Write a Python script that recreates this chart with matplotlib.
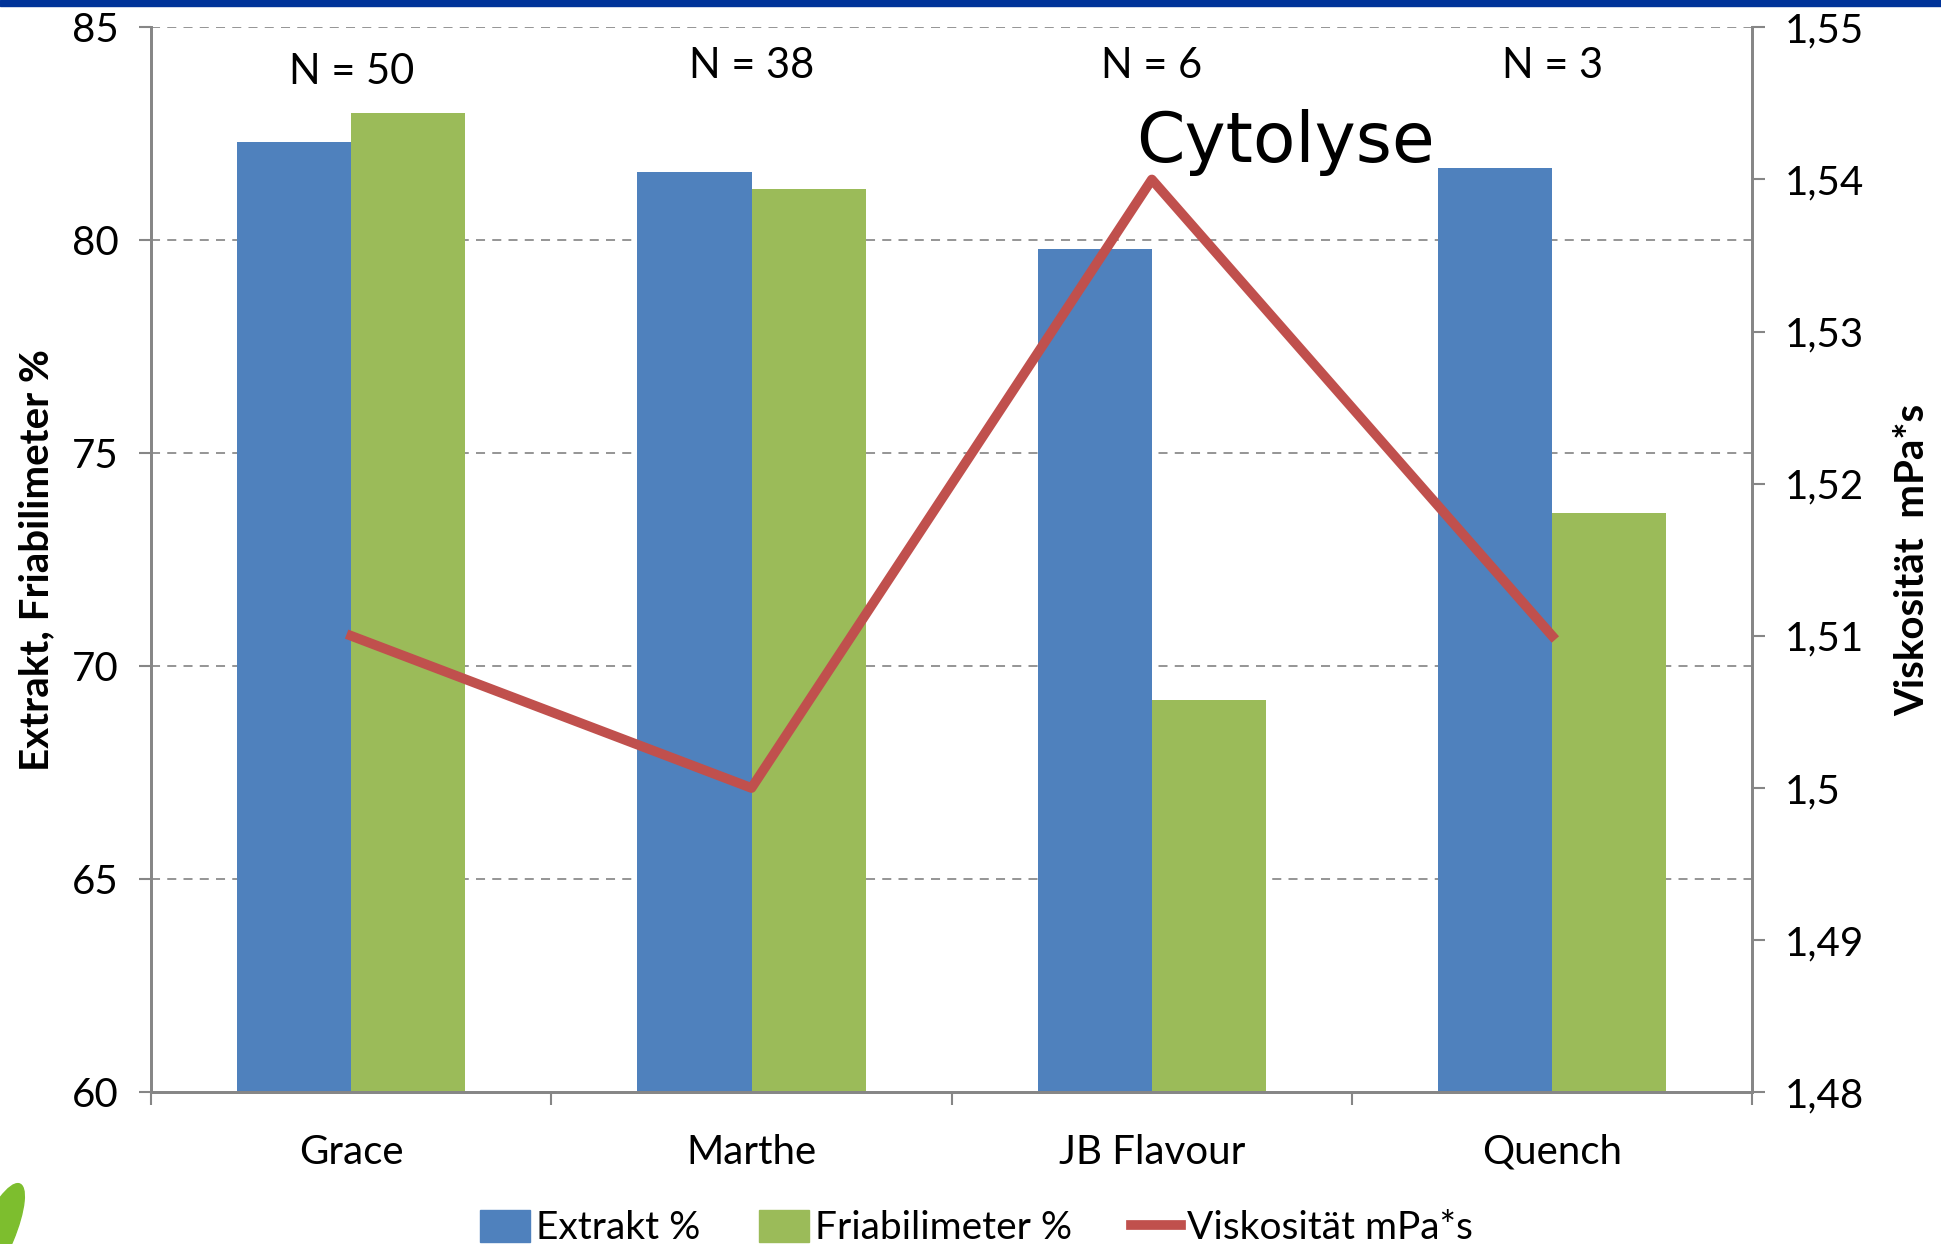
import numpy as np
import matplotlib.pyplot as plt
from matplotlib.patches import Rectangle, Patch, Ellipse
from matplotlib.lines import Line2D
from matplotlib.ticker import FuncFormatter

plt.rcParams['font.family'] = ['Lato', 'DejaVu Sans']

# data
sorten = ['Grace', 'Marthe', 'JB Flavour', 'Quench']
n_proben = ['N = 50', 'N = 38', 'N = 6', 'N = 3']
extrakt = [82.3, 81.6, 79.8, 81.7]
friabilimeter = [83.0, 81.2, 69.2, 73.6]
viskositaet = [1.51, 1.50, 1.54, 1.51]

blau = '#4F81BD'
gruen = '#9BBB59'
rot = '#C0504D'
grau = '#868686'

fig = plt.figure(figsize=(19.41, 12.44), dpi=100)
ax = fig.add_axes([0.0778, 0.122, 0.825, 0.856])
ax2 = ax.twinx()

x = np.arange(len(sorten))
w = 0.285
ax.bar(x - w/2, extrakt, w, color=blau, zorder=2)
ax.bar(x + w/2, friabilimeter, w, color=gruen, zorder=2)
ax2.plot(x, viskositaet, color=rot, lw=7, zorder=3)

ax.set_xlim(-0.5, 3.5)
ax.set_ylim(60, 85)
ax.set_yticks(np.arange(60, 86, 5))
ax2.set_ylim(1.48, 1.55)
ax2.set_yticks(np.arange(1.48, 1.551, 0.01))
ax2.yaxis.set_major_formatter(FuncFormatter(lambda v, p: ('%.2f' % v).rstrip('0').rstrip('.').replace('.', ',')))

# grid
for v in [65, 70, 75, 80, 85]:
    ax.axhline(v, color='#8c8c8c', lw=1.3, ls=(0, (5, 4)), zorder=1)

# x ticks between categories, labels in centre
ax.set_xticks(np.arange(-0.5, 3.6, 1))
ax.set_xticklabels([])
ax.set_xticks(x, minor=True)
ax.set_xticklabels(sorten, minor=True)
ax.tick_params(axis='x', which='minor', length=0, pad=30, labelsize=29)
ax.tick_params(axis='x', which='major', length=9, width=1.5, color=grau)
ax.tick_params(axis='y', length=9, width=1.5, color=grau, labelsize=29, pad=14)
ax2.tick_params(axis='y', length=9, width=1.5, color=grau, labelsize=29, pad=14)

for a in (ax, ax2):
    a.spines['top'].set_visible(False)
    for s in ['left', 'right', 'bottom']:
        a.spines[s].set_color(grau)
        a.spines[s].set_linewidth(2)

ax.set_ylabel('Extrakt, Friabilimeter %', fontsize=29, fontweight='bold', labelpad=12)
ax2.set_ylabel('Viskosität  mPa*s', fontsize=29, fontweight='bold', labelpad=22)

for i, t in enumerate(n_proben):
    ax.text(x[i], 83.95 if i == 0 else 84.1, t, ha='center', va='center', fontsize=30)

ax.text(1.96, 82.3, 'Cytolyse', fontsize=50, ha='left', va='center', family=['DejaVu Sans'])

handles = [Patch(color=blau), Patch(color=gruen), Line2D([], [], color=rot, lw=7)]
fig.legend(handles, ['Extrakt %', 'Friabilimeter %', 'Viskosität mPa*s'],
           loc='lower center', bbox_to_anchor=(0.503, -0.03), ncol=3, frameon=False,
           fontsize=28, handlelength=1.3, handleheight=0.9, handletextpad=0.15,
           columnspacing=1.5)

# blue band on top, bit of the logo leaf bottom left
fig.patches.append(Rectangle((0, 0.995), 1, 0.005, transform=fig.transFigure,
                             color='#003399', zorder=10))
fig.patches.append(Ellipse((-0.002, 0.005), 0.018, 0.09, angle=-15, transform=fig.transFigure,
                           color='#7DBE2E', zorder=10))

fig.savefig('out.png', dpi=100)
